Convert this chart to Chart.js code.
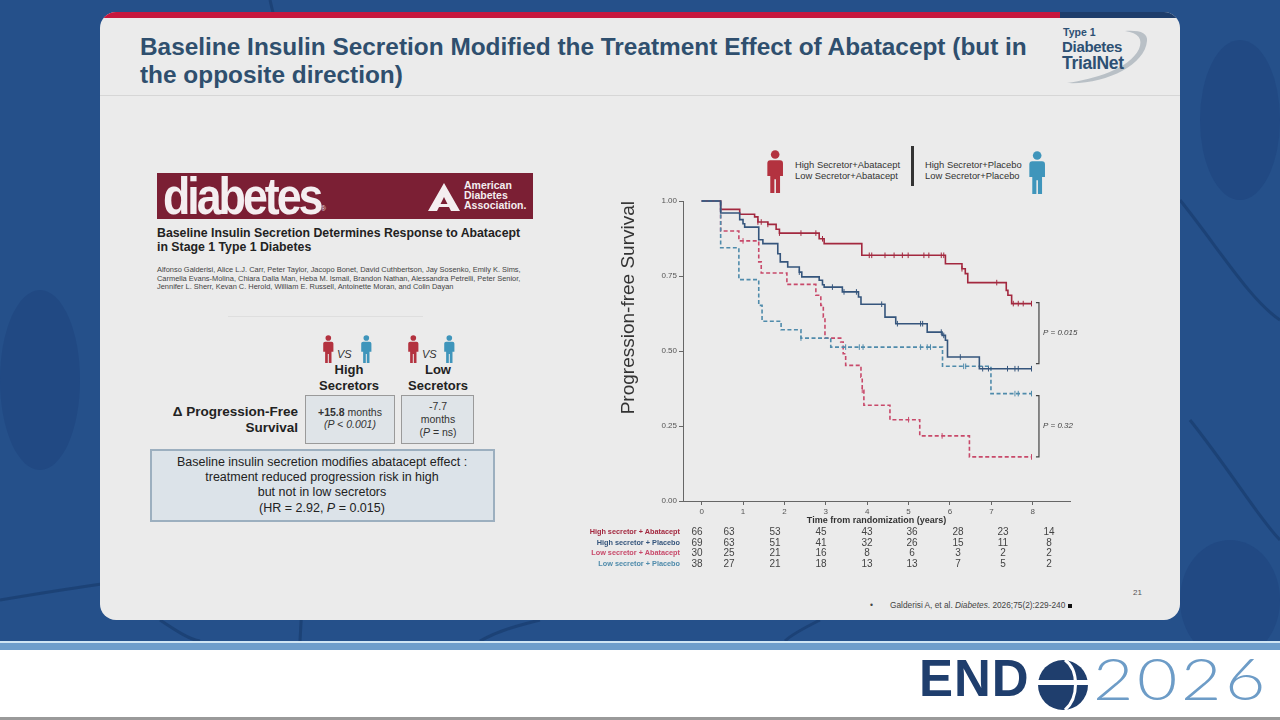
<!DOCTYPE html>
<html><head><meta charset="utf-8">
<script src="https://cdn.jsdelivr.net/npm/chart.js@4.4.1/dist/chart.umd.min.js"></script>
<style>
body{margin:0;width:1280px;height:720px;overflow:hidden;position:relative;background:#fff;font-family:"Liberation Sans",Arial,sans-serif;}
.a{position:absolute;white-space:nowrap;}
.c{transform:translateX(-50%);text-align:center;}
.r{transform:translateX(-100%);text-align:right;}
</style></head><body>
<!-- background -->
<div class="a" style="left:0;top:0;width:1280px;height:641px;background:#25508a"></div>
<svg class="a" style="left:0;top:0" width="1280" height="641">
  <g fill="#1f4680" opacity="0.7">
    <ellipse cx="40" cy="380" rx="40" ry="90"/>
    <ellipse cx="1230" cy="600" rx="50" ry="60"/>
    <ellipse cx="1240" cy="120" rx="40" ry="80"/>
  </g>
  <g fill="none" stroke="#1a3f72" stroke-width="3" opacity="0.8">
    <path d="M0 600 C60 590 150 575 260 565"/>
    <path d="M160 620 C175 630 190 640 200 641"/>
    <path d="M270 0 C300 120 320 300 300 641"/>
    <path d="M1180 200 C1220 250 1250 300 1280 320"/>
    <path d="M1190 420 C1230 470 1260 520 1280 540"/>
    <path d="M480 641 C500 630 520 625 540 620"/>
    <path d="M820 620 C800 630 790 636 785 641"/>
  </g>
</svg>
<div class="a" style="left:0;top:641px;width:1280px;height:2px;background:#cfe4f3"></div>
<div class="a" style="left:0;top:643px;width:1280px;height:7px;background:#6e9dcb"></div>
<div class="a" style="left:0;top:717px;width:1280px;height:3px;background:#9a9a9a"></div>

<!-- panel -->
<div class="a" style="left:100px;top:12px;width:1080px;height:608px;border-radius:16px;background:#ebebeb;overflow:hidden">
  <div class="a" style="left:0;top:0;width:960px;height:6px;background:#c6173d"></div>
  <div class="a" style="left:960px;top:0;width:120px;height:6px;background:#1e3d6b"></div>
  <div class="a" style="left:0;top:83px;width:1080px;height:1px;background:#d6d6d6"></div>
</div>

<!-- title -->
<div class="a" style="left:140px;top:33px;font-size:24.4px;font-weight:bold;color:#2f4f6e;line-height:28px;">Baseline Insulin Secretion Modified the Treatment Effect of Abatacept (but in<br>the opposite direction)</div>

<!-- TrialNet logo -->
<svg class="a" style="left:1055px;top:25px" width="105" height="65">
  <path d="M12 58 C50 60 90 40 92 16 C93 8 85 5 70 6 C84 8 88 14 84 24 C74 44 40 54 12 58 Z" fill="#b9c0c6"/>
</svg>
<div class="a" style="left:1063px;top:27px;font-size:10.5px;font-weight:bold;color:#2d5073;line-height:11px">Type 1</div>
<div class="a" style="left:1062px;top:40px;font-size:15px;font-weight:bold;color:#2d5073;letter-spacing:-0.3px;line-height:14px">Diabetes</div>
<div class="a" style="left:1062px;top:55px;font-size:17.5px;font-weight:bold;color:#2d5073;letter-spacing:-0.3px;line-height:16px">TrialNet</div>

<!-- Left panel: journal banner -->
<div class="a" style="left:157px;top:173px;width:376px;height:46px;background:#7b1f34"></div>
<div class="a" style="left:163px;top:166px;font-size:52px;font-weight:bold;color:#f4eef0;letter-spacing:-3.5px;transform:scaleX(0.86);transform-origin:left top;">diabetes</div>
<div class="a" style="left:321px;top:205px;font-size:6.5px;color:#f4eef0">®</div>
<svg class="a" style="left:427px;top:182px" width="34" height="30"><path d="M17 1 L33 29 L24 29 L17 15 L10 29 L1 29 Z" fill="#f4eef0"/><path d="M6 22 L28 22 L27 25 L7 25 Z" fill="#f4eef0"/></svg>
<div class="a" style="left:464px;top:181px;font-size:10.5px;font-weight:bold;color:#f4eef0;line-height:9.8px">American<br>Diabetes<br>Association.</div>

<div class="a" style="left:157px;top:226px;font-size:12.3px;font-weight:bold;color:#222;line-height:14px">Baseline Insulin Secretion Determines Response to Abatacept<br>in Stage 1 Type 1 Diabetes</div>
<div class="a" style="left:157px;top:266px;font-size:7.45px;color:#444;line-height:8.6px">Alfonso Galderisi, Alice L.J. Carr, Peter Taylor, Jacopo Bonet, David Cuthbertson, Jay Sosenko, Emily K. Sims,<br>Carmella Evans-Molina, Chiara Dalla Man, Heba M. Ismail, Brandon Nathan, Alessandra Petrelli, Peter Senior,<br>Jennifer L. Sherr, Kevan C. Herold, William E. Russell, Antoinette Moran, and Colin Dayan</div>
<div class="a" style="left:228px;top:316px;width:195px;height:1px;background:#dedede"></div>

<!-- icons vs -->
<div id="icons"></div>
<div class="a" style="left:337px;top:348px;font-size:11px;font-style:italic;color:#333">VS</div>
<div class="a" style="left:422px;top:348px;font-size:11px;font-style:italic;color:#333">VS</div>
<div class="a c" style="left:349px;top:362px;font-size:13px;font-weight:bold;color:#222;line-height:15.5px">High<br>Secretors</div>
<div class="a c" style="left:438px;top:362px;font-size:13px;font-weight:bold;color:#222;line-height:15.5px">Low<br>Secretors</div>
<div class="a" style="left:305px;top:395px;width:88px;height:47px;background:#dfe4e8;border:1.5px solid #9a9a9a"></div>
<div class="a" style="left:401px;top:395px;width:71px;height:47px;background:#dfe4e8;border:1.5px solid #9a9a9a"></div>
<div class="a c" style="left:350px;top:407px;font-size:10.5px;color:#333;line-height:11.5px"><b>+15.8</b> months<br><i>(P &lt; 0.001)</i></div>
<div class="a c" style="left:438px;top:400px;font-size:10.5px;color:#333;line-height:13px">-7.7<br>months<br>(<i>P</i> = ns)</div>
<div class="a r" style="left:298px;top:404px;font-size:13.5px;font-weight:bold;color:#222;line-height:15.5px">Δ Progression-Free<br>Survival</div>
<div class="a" style="left:150px;top:449px;width:341px;height:69px;background:#dce3e9;border:2px solid #9cafbf"></div>
<div class="a c" style="left:322px;top:455px;font-size:12.5px;color:#222;line-height:15.2px">Baseline insulin secretion modifies abatacept effect :<br>treatment reduced progression risk in high<br>but not in low secretors<br>(HR = 2.92, <i>P</i> = 0.015)</div>

<!-- chart legend -->
<div class="a" style="left:795px;top:159px;font-size:9.4px;color:#333;line-height:11px">High Secretor+Abatacept<br>Low Secretor+Abatacept</div>
<div class="a" style="left:911px;top:146px;width:2.5px;height:40px;background:#333"></div>
<div class="a" style="left:925px;top:159px;font-size:9.4px;color:#333;line-height:11px">High Secretor+Placebo<br>Low Secretor+Placebo</div>

<!-- chart -->
<div class="a" style="left:610px;top:190px;width:480px;height:339px"><canvas id="km"></canvas></div>

<!-- number at risk -->
<div id="risk"></div>

<div class="a" style="left:1133px;top:588px;font-size:8px;color:#555">21</div>
<div class="a" style="left:870px;top:600px;font-size:8.5px;color:#444">•</div>
<div class="a" style="left:890px;top:600px;font-size:8.3px;color:#444">Galderisi A, et al. <i>Diabetes</i>. 2026;75(2):229-240 <span style="display:inline-block;width:4px;height:4px;background:#111;vertical-align:middle"></span></div>

<!-- ENDO logo -->
<div class="a" style="left:919px;top:649px;font-size:51px;font-weight:bold;color:#1f3e6d;letter-spacing:1px">END</div>
<svg class="a" style="left:1035px;top:658px" width="56" height="54">
  <circle cx="28" cy="27" r="25" fill="#1f3e6d"/>
  <path d="M3 22 L53 22 L53 27 L3 27 Z" fill="#fff"/>
  <path d="M30 2 C44 12 44 40 30 52" fill="none" stroke="#fff" stroke-width="3"/>
</svg>
<div class="a" style="left:1093px;top:645px;font-size:58px;line-height:66px;font-weight:300;font-family:Lato,'Open Sans',sans-serif;color:#6d9cc7;letter-spacing:3px;transform:scaleX(1.2);transform-origin:left top">2026</div>

<script>
// ---- Data ----
const xTicks = [0,1,2,3,4,5,6,7,8];
const yTicks = [0,0.25,0.5,0.75,1];

const hiAbaT = [0,0.46,0.92,1.28,1.36,1.6,1.8,1.88,2.84,2.96,3.87,5.89,6.29,6.37,6.43,7.36,7.40,7.49,7.97];
const hiAbaS = [1,0.972,0.956,0.947,0.93,0.922,0.906,0.893,0.874,0.858,0.819,0.791,0.774,0.758,0.728,0.702,0.686,0.658,0.658];
const hiAbaCens = [1.36,1.44,1.6,1.88,2.4,2.76,2.92,4.05,4.11,4.43,4.65,4.85,4.99,5.37,5.49,5.79,5.85,6.29,7.13,7.53,7.65,7.77,7.97];

const hiPlaT = [0,0.46,0.92,1.0,1.04,1.38,1.48,1.84,1.9,2.08,2.36,2.42,2.84,2.92,2.96,3.4,3.79,3.85,4.43,4.69,5.45,5.81,5.89,5.94,6.71,7.97];
const hiPlaS = [1,0.96,0.938,0.924,0.913,0.871,0.858,0.824,0.797,0.78,0.763,0.747,0.736,0.721,0.713,0.697,0.68,0.656,0.613,0.591,0.563,0.552,0.536,0.48,0.441,0.441];
const hiPlaCens = [2.36,3.16,3.44,3.74,4.35,4.73,5.29,5.34,5.79,5.85,6.25,6.79,6.93,7.39,7.57,7.65,7.97];

const loAbaT = [0,0.46,0.9,1.38,1.44,2.06,2.76,2.88,2.94,2.98,3.36,3.42,3.48,3.85,3.88,3.92,4.55,5.27,6.47,7.97];
const loAbaS = [1,0.9,0.867,0.797,0.76,0.722,0.686,0.652,0.613,0.543,0.53,0.491,0.452,0.413,0.369,0.319,0.271,0.217,0.147,0.147];
const loAbaCens = [1.0,3.88,5.0,5.81,7.97];

const loPlaT = [0,0.46,0.9,1.38,1.46,1.92,2.4,3.12,5.82,6.99,7.97];
const loPlaS = [1,0.844,0.738,0.652,0.599,0.571,0.543,0.513,0.449,0.358,0.358];
const loPlaCens = [2.4,3.48,3.81,3.9,5.29,5.45,5.53,6.33,6.38,7.57,7.65,7.97];

const riskLabels = ['High secretor + Abatacept','High secretor + Placebo','Low secretor + Abatacept','Low secretor + Placebo'];
const riskHiAba = [66,63,53,45,43,36,28,23,14];
const riskHiPla = [69,63,51,41,32,26,15,11,8];
const riskLoAba = [30,25,21,16,8,6,3,2,2];
const riskLoPla = [38,27,21,18,13,13,7,5,2];

const pLabels = ['P = 0.015','P = 0.32'];

// ---- Styles ----
const colHiAba='#a3283f', colHiPla='#35557c', colLoAba='#c8496a', colLoPla='#4f8bab';
const labelCols=['#a3283f','#35557c','#c8496a','#4f8bab'];

function person(x,y,h,col){
  const w=h*0.38;
  return `<svg class="a" style="left:${x}px;top:${y}px" width="${w}" height="${h}" viewBox="0 0 16 44"><circle cx="8" cy="4.6" r="4.4" fill="${col}"/><path d="M3 10.5h10a3 3 0 0 1 3 3v13h-3v17.5h-4.2v-14h-1.6v14h-4.2v-17.5h-3v-13a3 3 0 0 1 3-3z" fill="${col}"/></svg>`;
}
const RED='#b3323f', BLUE='#3f95bb';
document.getElementById('icons').innerHTML =
  person(323,335,28,RED)+person(361,335,28,BLUE)+person(408,335,28,RED)+person(444,335,28,BLUE)+
  person(767,150,43,RED)+person(1029,151,43,BLUE);

const colX=[697,729,775,821,867,912,958,1003,1049];
const rowY=[526,537,547,558];
const rows=[riskHiAba,riskHiPla,riskLoAba,riskLoPla];
let h='';
rows.forEach((r,i)=>{
  h+=`<div class="a r" style="left:680px;top:${rowY[i]+1}px;font-size:7.3px;font-weight:bold;color:${labelCols[i]}">${riskLabels[i]}</div>`;
  r.forEach((v,j)=>{h+=`<div class="a c" style="left:${colX[j]}px;top:${rowY[i]}px;font-size:10px;color:#444">${v}</div>`;});
});
document.getElementById('risk').innerHTML=h;

function pts(T,S){return T.map((t,i)=>({x:t,y:S[i]}));}
function survAt(T,S,t){let v=S[0];for(let i=0;i<T.length;i++){if(T[i]<=t+1e-9)v=S[i];}return v;}
function cens(T,S,C){return C.map(t=>({x:t,y:survAt(T,S,t)}));}

function lineDs(T,S,col,dash){return {type:'line',data:pts(T,S),borderColor:col,borderWidth:1.6,borderDash:dash,stepped:'before',pointRadius:0,fill:false,clip:false};}
function censDs(T,S,C,col){return {type:'scatter',data:cens(T,S,C),borderColor:col,backgroundColor:col,pointStyle:'line',rotation:90,pointRadius:2.8,borderWidth:1,showLine:false,clip:false};}

const bracketPlugin={id:'brackets',afterDatasetsDraw(chart){
  const {ctx,scales:{x,y}}=chart;
  const bx=x.getPixelForValue(8.15);
  const pairs=[[y.getPixelForValue(hiAbaS[hiAbaS.length-1])-1,y.getPixelForValue(hiPlaS[hiPlaS.length-1])-5,pLabels[0]],
               [y.getPixelForValue(loPlaS[loPlaS.length-1])+2,y.getPixelForValue(loAbaS[loAbaS.length-1]),pLabels[1]]];
  ctx.save();
  ctx.strokeStyle='#444';ctx.lineWidth=1.2;
  ctx.font='italic 8px "Liberation Sans", Arial, sans-serif';ctx.fillStyle='#444';ctx.textBaseline='middle';
  pairs.forEach(([t,b,lab])=>{
    ctx.beginPath();ctx.moveTo(bx-3,t);ctx.lineTo(bx,t);ctx.lineTo(bx,b);ctx.lineTo(bx-3,b);ctx.stroke();
    ctx.fillText(lab,bx+4,(t+b)/2);
  });
  ctx.restore();
}};

new Chart(document.getElementById('km'),{
  data:{datasets:[
    lineDs(hiPlaT,hiPlaS,colHiPla,[]),
    lineDs(loPlaT,loPlaS,colLoPla,[4,2.5]),
    lineDs(loAbaT,loAbaS,colLoAba,[4,2.5]),
    lineDs(hiAbaT,hiAbaS,colHiAba,[]),
    censDs(hiPlaT,hiPlaS,hiPlaCens,colHiPla),
    censDs(loPlaT,loPlaS,loPlaCens,colLoPla),
    censDs(loAbaT,loAbaS,loAbaCens,colLoAba),
    censDs(hiAbaT,hiAbaS,hiAbaCens,colHiAba)
  ]},
  options:{
    responsive:true,maintainAspectRatio:false,animation:false,
    layout:{padding:{top:11,right:20,left:0,bottom:0}},
    plugins:{legend:{display:false},tooltip:{enabled:false}},
    scales:{
      x:{type:'linear',min:-0.45,max:8.9,
        afterFit(s){s.height=28;},
        afterBuildTicks(s){s.ticks=xTicks.map(v=>({value:v}));},
        ticks:{font:{size:8,family:'"Liberation Sans", Arial'},color:'#555',padding:2},
        grid:{drawOnChartArea:false,tickLength:4,color:'#666'},
        border:{display:true,color:'#666',width:1},
        title:{display:true,text:'Time from randomization (years)',font:{size:9,weight:'bold',family:'"Liberation Sans", Arial'},color:'#333',padding:{top:2,bottom:3}}
      },
      y:{type:'linear',min:0,max:1,
        afterFit(s){s.width=73;},
        afterBuildTicks(s){s.ticks=yTicks.map(v=>({value:v}));},
        ticks:{font:{size:8,family:'"Liberation Sans", Arial'},color:'#555',padding:2,callback:v=>v.toFixed(2)},
        grid:{drawOnChartArea:false,tickLength:4,color:'#666'},
        border:{display:true,color:'#666',width:1},
        title:{display:true,text:'Progression-free Survival',align:'end',font:{size:19,family:'"Liberation Sans", Arial'},color:'#333',padding:{top:7,bottom:0}}
      }
    }
  },
  plugins:[bracketPlugin]
});
</script>
</body></html>
